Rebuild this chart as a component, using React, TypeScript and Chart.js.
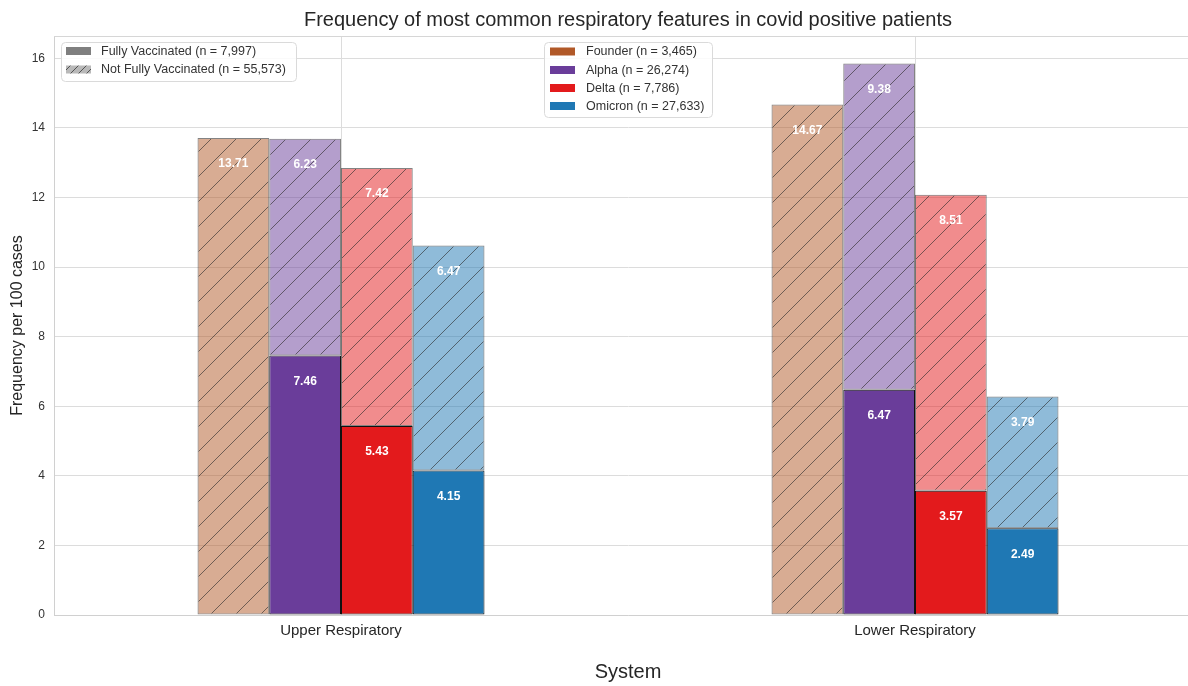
import React, { useEffect, useRef } from "react";
import { Chart, registerables } from "chart.js";

Chart.register(...registerables);

const categories = ["Upper Respiratory", "Lower Respiratory"];
const variantNames = ["Founder", "Alpha", "Delta", "Omicron"];
const variantLegend = ["Founder (n = 3,465)", "Alpha (n = 26,274)", "Delta (n = 7,786)", "Omicron (n = 27,633)"];
const vaccLegend = ["Fully Vaccinated (n = 7,997)", "Not Fully Vaccinated (n = 55,573)"];
const variantColors = ["#b15928", "#6a3d9a", "#e31a1c", "#1f78b4"];

const founderVacc: (number | null)[] = [null, null];
const founderNot = [13.71, 14.67];
const alphaVacc = [7.46, 6.47];
const alphaNot = [6.23, 9.38];
const deltaVacc = [5.43, 3.57];
const deltaNot = [7.42, 8.51];
const omicronVacc = [4.15, 2.49];
const omicronNot = [6.47, 3.79];
const yTicks = [0, 2, 4, 6, 8, 10, 12, 14, 16];

const titleText = "Frequency of most common respiratory features in covid positive patients";
const xTitle = "System";
const yTitle = "Frequency per 100 cases";

const FONT = "'Liberation Sans', Arial, Helvetica, sans-serif";

function hexToRgba(hex: string, a: number) {
  const n = parseInt(hex.slice(1), 16);
  return `rgba(${(n >> 16) & 255},${(n >> 8) & 255},${n & 255},${a})`;
}

function makeHatch(fill: string, line: string, size = 25) {
  const c = document.createElement("canvas");
  c.width = size;
  c.height = size;
  const g = c.getContext("2d")!;
  g.fillStyle = fill;
  g.fillRect(0, 0, size, size);
  g.strokeStyle = line;
  g.lineWidth = 1;
  g.beginPath();
  for (let k = -1; k <= 1; k++) {
    g.moveTo(k * size, size);
    g.lineTo(k * size + size, 0);
  }
  g.stroke();
  return g.createPattern(c, "repeat")!;
}

export default function App() {
  const ref = useRef<HTMLCanvasElement>(null);

  useEffect(() => {
    const canvas = ref.current!;
    const hatchLine = "rgba(40,40,40,0.6)";
    const vaccSets = [founderVacc, alphaVacc, deltaVacc, omicronVacc];
    const notSets = [founderNot, alphaNot, deltaNot, omicronNot];
    const datasets: any[] = [];
    variantNames.forEach((name, i) => {
      datasets.push({
        label: name + " vacc",
        data: vaccSets[i],
        stack: name,
        backgroundColor: variantColors[i],
        borderColor: "#111111",
        borderWidth: 1,
        borderSkipped: false,
      });
      datasets.push({
        label: name + " not",
        data: notSets[i],
        stack: name,
        backgroundColor: makeHatch(hexToRgba(variantColors[i], 0.5), hatchLine),
        borderColor: "rgba(30,30,30,0.55)",
        borderWidth: 1,
        borderSkipped: false,
      });
    });

    const grayHatch = makeHatch("rgba(128,128,128,0.55)", "rgba(40,40,40,0.7)", 8);

    const decor = {
      id: "decor",
      afterDatasetsDraw(chart: any) {
        const ctx = chart.ctx;
        ctx.save();
        ctx.fillStyle = "#ffffff";
        ctx.font = `bold 12px ${FONT}`;
        ctx.textAlign = "center";
        ctx.textBaseline = "middle";
        chart.data.datasets.forEach((ds: any, i: number) => {
          const meta = chart.getDatasetMeta(i);
          meta.data.forEach((el: any, j: number) => {
            const v = ds.data[j];
            if (v == null) return;
            ctx.fillText(v.toFixed(2), el.x, el.y + 26);
          });
        });
        ctx.restore();
      },
      afterDraw(chart: any) {
        const ctx = chart.ctx;
        const a = chart.chartArea;
        ctx.save();
        // top spine
        ctx.strokeStyle = "#d6d6d6";
        ctx.lineWidth = 1;
        ctx.beginPath();
        ctx.moveTo(a.left, a.top + 0.5);
        ctx.lineTo(a.right, a.top + 0.5);
        ctx.stroke();

        // titles
        ctx.fillStyle = "#262626";
        ctx.textAlign = "center";
        ctx.textBaseline = "middle";
        ctx.font = `20px ${FONT}`;
        ctx.fillText(titleText, (a.left + a.right) / 2, 20);
        ctx.fillText(xTitle, (a.left + a.right) / 2, 672);
        ctx.save();
        ctx.translate(18, (a.top + a.bottom) / 2);
        ctx.rotate(-Math.PI / 2);
        ctx.font = `16px ${FONT}`;
        ctx.fillText(yTitle, 0, 0);
        ctx.restore();

        const box = (x: number, y: number, w: number, h: number) => {
          ctx.beginPath();
          ctx.roundRect(x + 0.5, y + 0.5, w, h, 4);
          ctx.fillStyle = "rgba(255,255,255,0.85)";
          ctx.fill();
          ctx.strokeStyle = "#dadada";
          ctx.lineWidth = 1;
          ctx.stroke();
        };
        ctx.font = `12.5px ${FONT}`;
        ctx.textAlign = "left";
        // legend 1
        box(61, 42, 235, 39);
        const l1y = [51, 69.5];
        ctx.fillStyle = "#7f7f7f";
        ctx.fillRect(66, l1y[0] - 4, 25, 8);
        ctx.fillStyle = grayHatch;
        ctx.fillRect(66, l1y[1] - 4, 25, 8);
        ctx.fillStyle = "#333333";
        vaccLegend.forEach((t, i) => ctx.fillText(t, 101, l1y[i] + 0.5));
        // legend 2
        box(544, 42, 168, 75);
        const l2y = [51.5, 70, 88, 106];
        variantLegend.forEach((t, i) => {
          ctx.fillStyle = variantColors[i];
          ctx.fillRect(550, l2y[i] - 4, 25, 8);
          ctx.fillStyle = "#333333";
          ctx.fillText(t, 586, l2y[i] + 0.5);
        });
        ctx.restore();
      },
    };

    const chart = new Chart(canvas, {
      type: "bar",
      data: { labels: categories, datasets },
      options: {
        animation: false,
        responsive: false,
        devicePixelRatio: 1,
        layout: { padding: { top: 36, right: 13, left: 0, bottom: 0 } },
        datasets: { bar: { categoryPercentage: 0.5, barPercentage: 1 } } as any,
        plugins: { legend: { display: false }, tooltip: { enabled: false }, title: { display: false } },
        scales: {
          x: {
            type: "category",
            stacked: true,
            offset: true,
            grid: { offset: false, color: "#dcdcdc", drawTicks: false },
            border: { color: "#d0d0d0" },
            ticks: { font: { size: 15, family: FONT }, color: "#262626", padding: 7 },
            afterFit: (s: any) => {
              s.height = 71;
            },
          },
          y: {
            stacked: true,
            min: 0,
            max: 16.64,
            grid: { color: "#dcdcdc", drawTicks: false },
            border: { color: "#d0d0d0" },
            ticks: { font: { size: 12, family: FONT }, color: "#333333", padding: 9 },
            afterBuildTicks: (s: any) => {
              s.ticks = yTicks.map((v) => ({ value: v }));
            },
            afterFit: (s: any) => {
              s.width = 54;
            },
          },
        },
      },
      plugins: [decor],
    });
    return () => chart.destroy();
  }, []);

  return (
    <div
      style={{
        position: "fixed",
        left: 0,
        top: 0,
        width: 1188,
        height: 686,
        overflow: "hidden",
        background: "#ffffff",
      }}
    >
      <canvas ref={ref} width={1215} height={686} style={{ display: "block" }} />
    </div>
  );
}
